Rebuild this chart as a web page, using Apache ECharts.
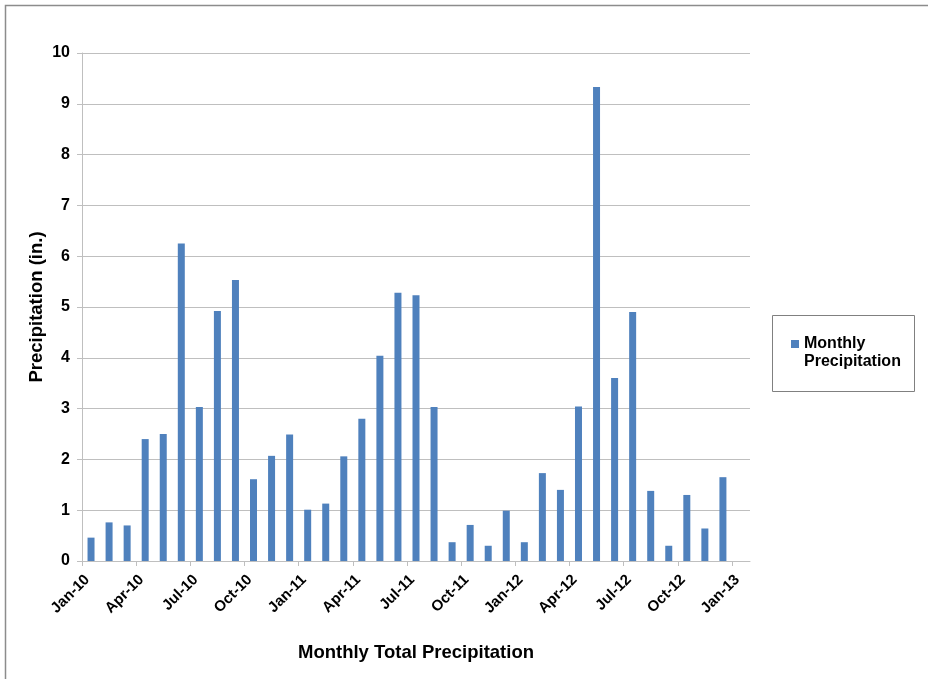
<!DOCTYPE html>
<html>
<head>
<meta charset="utf-8">
<title>Monthly Total Precipitation</title>
<script src="https://cdn.jsdelivr.net/npm/echarts@6/dist/echarts.min.js"></script>
<style>
  html, body { margin: 0; padding: 0; background: #ffffff; }
  #chart { width: 928px; height: 679px; }
</style>
</head>
<body>
<div id="chart"></div>
<script>
// Months covered by the record (Jan 2010 – Dec 2012)
const months = [
  'Jan-10','Feb-10','Mar-10','Apr-10','May-10','Jun-10','Jul-10','Aug-10','Sep-10','Oct-10','Nov-10','Dec-10',
  'Jan-11','Feb-11','Mar-11','Apr-11','May-11','Jun-11','Jul-11','Aug-11','Sep-11','Oct-11','Nov-11','Dec-11',
  'Jan-12','Feb-12','Mar-12','Apr-12','May-12','Jun-12','Jul-12','Aug-12','Sep-12','Oct-12','Nov-12','Dec-12'
];

// Monthly precipitation totals, inches
const precipitation = [
  0.46, 0.76, 0.70, 2.40, 2.50, 6.25, 3.03, 4.92, 5.53, 1.61, 2.07, 2.49,
  1.01, 1.13, 2.06, 2.80, 4.04, 5.28, 5.23, 3.03, 0.37, 0.71, 0.30, 0.99,
  0.37, 1.73, 1.40, 3.04, 9.33, 3.60, 4.90, 1.38, 0.30, 1.30, 0.64, 1.65
];

// Quarterly labels along the date axis
const tickLabels = [
  'Jan-10','Apr-10','Jul-10','Oct-10','Jan-11','Apr-11','Jul-11',
  'Oct-11','Jan-12','Apr-12','Jul-12','Oct-12','Jan-13'
];

const seriesName = 'Monthly Precipitation';
const FONT = '"Liberation Sans", Arial, sans-serif';

// Each month occupies one unit on the x axis; bars sit in the middle of their month
const barData = precipitation.map((v, i) => [i + 0.5, v]);
const quarterTicks = tickLabels.map((_, i) => i * 3);

const chart = echarts.init(document.getElementById('chart'), null, { renderer: 'canvas' });

chart.setOption({
  animation: false,
  backgroundColor: '#ffffff',
  textStyle: { fontFamily: FONT },
  grid: { left: 82, right: 178, top: 53, bottom: 118, containLabel: false },
  legend: {
    left: 791,
    top: 335,
    padding: 0,
    itemWidth: 8,
    itemHeight: 26,
    // square swatch at the top of a tall item so it lines up with the first text line
    icon: 'path://M0,0H8V8H0Z M0,26H8V26H0Z',
    data: [seriesName],
    formatter: () => 'Monthly\nPrecipitation',
    textStyle: {
      fontFamily: FONT,
      fontWeight: 'bold',
      fontSize: 16,
      color: '#000000',
      lineHeight: 18
    }
  },
  xAxis: {
    type: 'value',
    min: 0,
    max: 37,
    interval: 3,
    name: 'Monthly Total Precipitation',
    nameLocation: 'middle',
    nameGap: 82,
    nameMoveOverlap: false,
    nameTextStyle: { fontFamily: FONT, fontWeight: 'bold', fontSize: 18.5, color: '#000000' },
    axisLine: { show: true, lineStyle: { color: '#bfbfbf', width: 1 } },
    axisTick: { show: true, length: 5, customValues: quarterTicks, lineStyle: { color: '#bfbfbf' } },
    axisLabel: {
      customValues: quarterTicks,
      rotate: 45,
      margin: 11,
      align: 'right',
      verticalAlign: 'top',
      fontFamily: FONT,
      fontWeight: 'bold',
      fontSize: 15,
      color: '#000000',
      formatter: v => tickLabels[Math.round(v / 3)] || ''
    },
    splitLine: { show: false }
  },
  yAxis: {
    type: 'value',
    min: 0,
    max: 10,
    interval: 1,
    name: 'Precipitation (in.)',
    nameLocation: 'middle',
    nameGap: 36,
    nameMoveOverlap: false,
    nameTextStyle: { fontFamily: FONT, fontWeight: 'bold', fontSize: 18.5, color: '#000000' },
    axisLine: { show: true, lineStyle: { color: '#bfbfbf', width: 1 } },
    axisTick: { show: true, length: 5, lineStyle: { color: '#bfbfbf' } },
    axisLabel: {
      margin: 12,
      fontFamily: FONT,
      fontWeight: 'bold',
      fontSize: 16,
      color: '#000000'
    },
    splitLine: { show: true, lineStyle: { color: '#bfbfbf', width: 1 } }
  },
  series: [{
    name: seriesName,
    type: 'bar',
    barWidth: 7,
    data: barData,
    itemStyle: { color: '#4f81bd' }
  }],
  graphic: [
    {
      type: 'rect',
      silent: true,
      shape: { x: 5.5, y: 5.5, width: 960, height: 720 },
      style: { fill: 'none', stroke: '#8c8c8c', lineWidth: 1.5 }
    },
    {
      type: 'rect',
      silent: true,
      shape: { x: 772.5, y: 315.5, width: 142, height: 76 },
      style: { fill: 'none', stroke: '#808080', lineWidth: 1 }
    }
  ]
});
</script>
</body>
</html>
